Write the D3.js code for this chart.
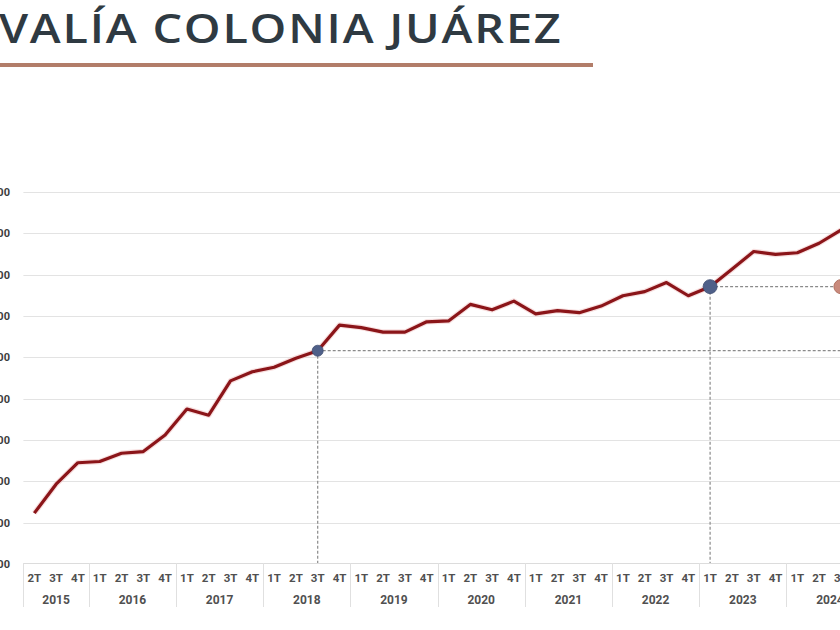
<!DOCTYPE html>
<html><head><meta charset="utf-8">
<script src="https://cdn.jsdelivr.net/npm/d3@7"></script>
<style>
html,body{margin:0;padding:0;background:#fff;overflow:hidden}
svg{display:block}
</style></head>
<body>
<svg id="c" width="840" height="630"></svg>
<script>
// ---- data ----
const title = "PLUSVALÍA COLONIA JUÁREZ";
const years = ["2015","2016","2017","2018","2019","2020","2021","2022","2023","2024"];
const quarters = ["1T","2T","3T","4T"];
// precio por m² (estimado), desde 2T 2015
const values = [36150,39650,42250,42400,43400,43600,45600,48750,48000,52150,53250,53800,
  54900,55800,58900,58600,58050,58050,59300,59400,61400,60750,61800,60250,60650,60400,
  61200,62450,62950,64050,62450,63550,65650,67800,67450,67650,68800,70400];
const yTicks = [30000,35000,40000,45000,50000,55000,60000,65000,70000,75000];
const highlights = [{year:"2018",q:"3T",r:5.5},{year:"2023",q:"1T",r:7}];
const compare = {year:"2024",q:"3T",ref:"2023-1T"};

// ---- categories ----
const cats = [];
years.forEach(y => quarters.forEach(q => { if(!(y==="2015"&&q==="1T")) cats.push({year:y,q:q,key:y+"-"+q}); }));
const series = values.map((v,i)=>({key:cats[i].key,v:v}));

const svg = d3.select("#c");
const x = d3.scaleBand().domain(cats.map(c=>c.key)).range([23.4, 23.4+cats.length*21.8]).padding(0);
const y = d3.scaleLinear().domain([30000,75000]).range([564,192]);
const cx = k => x(k)+x.bandwidth()/2;

// ---- title ----
const tg = svg.append("g");
const fs = 39, tf = "Open Sans", tw = 600, ls = 1.5;
const meas = s => { const t = tg.append("text").attr("font-family",tf).attr("font-weight",tw).attr("font-size",fs).attr("letter-spacing",ls).text(s); const w=t.node().getComputedTextLength(); t.remove(); return w; };
const wFull = meas(title), wPlus = meas("PLUS");
const sx = 562 / (wFull - wPlus - ls);
tg.attr("transform",`translate(${-wPlus*sx - 1},43) scale(${sx},1)`);
tg.append("text").attr("x",0).attr("y",0)
  .attr("font-family",tf).attr("font-weight",tw).attr("font-size",fs)
  .attr("letter-spacing",ls).attr("fill","#2f3a42").text(title);
svg.append("rect").attr("x",0).attr("y",63).attr("width",593).attr("height",4).attr("fill","#b27d69");

// ---- grid ----
svg.append("g").selectAll("line").data(yTicks.slice(1)).join("line")
  .attr("x1",23.4).attr("x2",880).attr("y1",d=>Math.round(y(d))+0.5).attr("y2",d=>Math.round(y(d))+0.5)
  .attr("stroke","#e3e3e3").attr("stroke-width",1);
svg.append("g").selectAll("text").data(yTicks).join("text")
  .attr("x",10).attr("y",d=>y(d)).attr("dy","0.35em").attr("text-anchor","end")
  .attr("font-family","Roboto").attr("font-weight",700).attr("font-size",11).attr("fill","#3d3d3d")
  .text(d=>"$"+d3.format(",")(d));

// ---- x axis ----
const ax = svg.append("g");
ax.append("line").attr("x1",23.4).attr("x2",880).attr("y1",563.5).attr("y2",563.5).attr("stroke","#dcdcdc");
const yearGroups = d3.groups(cats, c=>c.year);
yearGroups.forEach(([yr,cs])=>{
  const x0 = x(cs[0].key), x1 = x(cs[cs.length-1].key)+x.bandwidth();
  ax.append("line").attr("x1",Math.round(x0)+0.5).attr("x2",Math.round(x0)+0.5).attr("y1",563).attr("y2",607).attr("stroke","#e0e0e0");
  ax.append("text").attr("x",(x0+x1)/2).attr("y",603.5).attr("text-anchor","middle")
    .attr("font-family","Roboto").attr("font-weight",700).attr("font-size",12).attr("fill","#505050").text(yr);
});
ax.selectAll("text.q").data(cats).join("text").attr("class","q")
  .attr("x",d=>cx(d.key)).attr("y",582).attr("text-anchor","middle")
  .attr("font-family","Roboto").attr("font-weight",700).attr("font-size",11.5).attr("fill","#505050").text(d=>d.q);

// ---- reference dashed lines ----
const byKey = new Map(series.map(d=>[d.key,d.v]));
const dl = svg.append("g").attr("stroke","#8a8a8a").attr("stroke-width",1.2).attr("stroke-dasharray","3,2").attr("fill","none");
highlights.forEach(h=>{
  const k=h.year+"-"+h.q, v=byKey.get(k);
  dl.append("line").attr("x1",cx(k)).attr("x2",cx(k)).attr("y1",y(v)).attr("y2",563);
  dl.append("line").attr("x1",cx(k)).attr("x2",880).attr("y1",y(v)).attr("y2",y(v));
});

// ---- line ----
const line = d3.line().x(d=>cx(d.key)).y(d=>y(d.v));
svg.append("path").datum(series).attr("d",line).attr("fill","none")
  .attr("stroke","#f2c9c9").attr("stroke-width",5.5).attr("stroke-linejoin","round").attr("opacity",0.6);
svg.append("path").datum(series).attr("d",line).attr("fill","none")
  .attr("stroke","#8b1519").attr("stroke-width",3.2).attr("stroke-linejoin","round");

// ---- markers ----
highlights.forEach(h=>{
  const k=h.year+"-"+h.q;
  svg.append("circle").attr("cx",cx(k)).attr("cy",y(byKey.get(k))).attr("r",h.r).attr("fill","#4f6089").attr("stroke","#3f4e72").attr("stroke-width",0.8);
});
const ck = compare.year+"-"+compare.q;
svg.append("circle").attr("cx",cx(ck)).attr("cy",y(byKey.get(compare.ref))).attr("r",7).attr("fill","#c98a7c").attr("stroke","#b07060").attr("stroke-width",1);
</script>
</body></html>
